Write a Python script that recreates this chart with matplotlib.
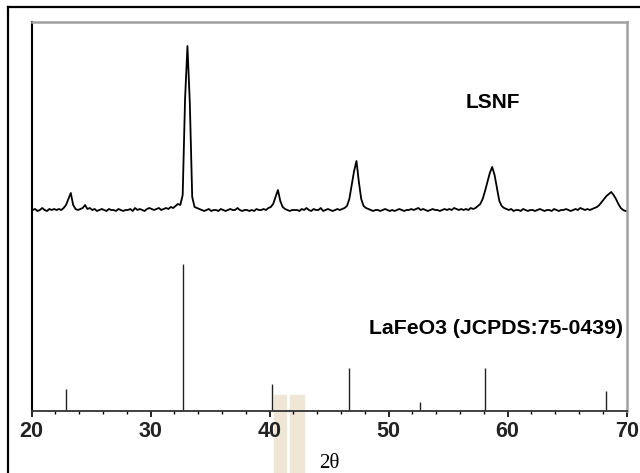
import numpy as np
import matplotlib
matplotlib.use("Agg")
import matplotlib.pyplot as plt
from matplotlib.patches import Rectangle
from matplotlib.lines import Line2D

# measured LSNF pattern, 0.2 deg steps from 20.1 to 69.9 (one row = 2 deg)
two_theta = np.concatenate([[20.0], np.arange(20.1, 69.95, 0.2), [70.0]])
lsnf_rows = [
    [201, 202, 200, 201, 203, 201, 200, 202, 201, 202],  # 20.1 - 21.9
    [201, 202, 201, 203, 206, 212, 218, 206, 202, 201],  # 22.1 - 23.9
    [202, 203, 206, 202, 203, 201, 202, 200, 201, 202],  # 24.1 - 25.9
    [201, 200, 202, 201, 201, 200, 202, 201, 200, 201],  # 26.1 - 27.9
    [201, 202, 200, 203, 201, 202, 201, 200, 202, 203],  # 28.1 - 29.9
    [202, 201, 202, 203, 201, 202, 203, 202, 204, 203],  # 30.1 - 31.9
    [205, 207, 206, 216, 312, 365, 308, 214, 204, 203],  # 32.1 - 33.9
    [202, 201, 200, 201, 202, 200, 201, 201, 200, 202],  # 34.1 - 35.9
    [201, 200, 201, 202, 201, 201, 203, 201, 200, 201],  # 36.1 - 37.9
    [201, 200, 201, 200, 202, 201, 201, 202, 201, 203],  # 38.1 - 39.9
    [204, 207, 214, 221, 210, 204, 202, 201, 200, 201],  # 40.1 - 41.9
    [201, 201, 200, 202, 201, 203, 201, 200, 202, 201],  # 42.1 - 43.9
    [201, 203, 200, 201, 202, 201, 200, 201, 202, 201],  # 44.1 - 45.9
    [202, 203, 205, 212, 226, 240, 250, 229, 212, 205],  # 46.1 - 47.9
    [203, 202, 201, 200, 201, 201, 200, 201, 202, 201],  # 48.1 - 49.9
    [200, 201, 200, 201, 202, 201, 200, 201, 201, 202],  # 50.1 - 51.9
    [201, 202, 203, 201, 202, 201, 200, 201, 202, 201],  # 52.1 - 53.9
    [201, 200, 201, 202, 201, 202, 201, 203, 202, 201],  # 54.1 - 55.9
    [202, 201, 202, 201, 203, 202, 203, 205, 207, 212],  # 56.1 - 57.9
    [220, 229, 238, 244, 236, 223, 210, 205, 203, 202],  # 58.1 - 59.9
    [201, 202, 200, 201, 201, 200, 202, 201, 200, 201],  # 60.1 - 61.9
    [201, 200, 201, 202, 201, 200, 201, 201, 200, 202],  # 62.1 - 63.9
    [201, 200, 201, 201, 202, 201, 200, 201, 202, 201],  # 64.1 - 65.9
    [203, 202, 201, 202, 201, 202, 203, 204, 206, 209],  # 66.1 - 67.9
    [212, 215, 217, 219, 216, 212, 207, 203, 201, 200],  # 68.1 - 69.9
]
lsnf = np.concatenate([[201], np.ravel(lsnf_rows), [200]])

# LaFeO3 reference lines (JCPDS 75-0439)
ref_pos = [22.9, 32.7, 40.2, 46.7, 52.6, 58.1, 68.25]
ref_int = [22, 147, 27, 43, 9, 43, 20]

plt.rcParams["font.family"] = ["Liberation Sans", "DejaVu Sans"]

fig = plt.figure(figsize=(6.4, 4.73), dpi=100)
ax = fig.add_axes([31.5 / 640, 1 - 411 / 473, (626.7 - 31.5) / 640, 389 / 473])
ax.set_facecolor("none")
ax.set_zorder(2)

# light stripes behind the axis
for x0, x1 in [(273.7, 286.3), (289.7, 303.7)]:
    fig.patches.append(Rectangle((x0 / 640, 0), (x1 - x0) / 640, 78 / 473,
                                 transform=fig.transFigure, color="#efe6d6",
                                 zorder=-1))

# outer frame (left and top edges)
fig.add_artist(Line2D([8 / 640, 8 / 640], [0, 1 - 7 / 473], color="black", lw=1.6))
fig.add_artist(Line2D([8 / 640, 1], [1 - 7 / 473, 1 - 7 / 473], color="black", lw=1.6))

ax.plot(two_theta, lsnf, color="black", lw=1.3)
ax.vlines(ref_pos, 0, ref_int, color="#222222", lw=1.0)

ax.text(58.77, 309, "LSNF", ha="center", va="center", fontsize=15, fontweight="bold")
ax.text(69.69, 83, "LaFeO3 (JCPDS:75-0439)", ha="right", va="center",
        fontsize=15.3, fontweight="bold")

ax.set_xlim(20, 70)
ax.set_ylim(0, 389)
ax.set_xticks([20, 30, 40, 50, 60, 70])
ax.set_xticks(np.arange(22, 70, 2), minor=True)
ax.set_yticks([])
ax.tick_params(axis="x", which="major", direction="out", length=4, width=1.2,
               labelsize=15.5, pad=3)
ax.tick_params(axis="x", which="minor", direction="out", length=2.5, width=1.0)
for lab in ax.get_xticklabels():
    lab.set_fontweight("bold")
    lab.set_color("#222222")

ax.set_xlabel("2θ", fontsize=15, family=["Liberation Serif", "DejaVu Serif"], labelpad=8.5)

ax.spines["left"].set_color("black")
ax.spines["left"].set_linewidth(1.5)
ax.spines["bottom"].set_color("#333333")
ax.spines["bottom"].set_linewidth(1.3)
for side in ["top", "right"]:
    ax.spines[side].set_color("#a0a0a0")
    ax.spines[side].set_linewidth(1.8)

fig.savefig("out.png", dpi=100)
